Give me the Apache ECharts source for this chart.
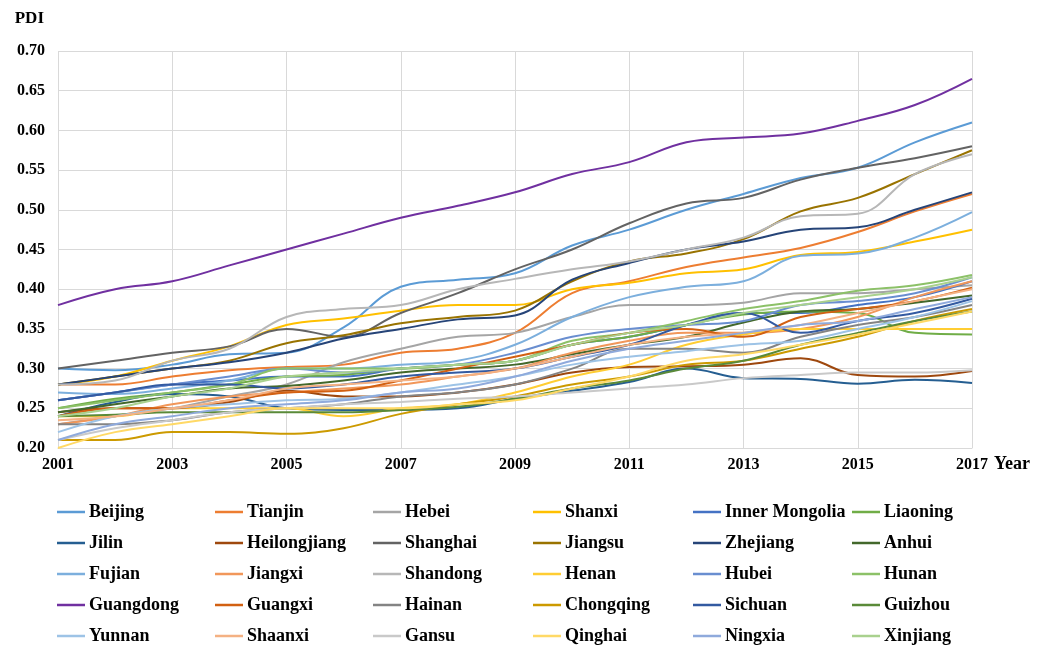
<!DOCTYPE html>
<html>
<head>
<meta charset="utf-8">
<script src="https://cdn.jsdelivr.net/npm/echarts@6/dist/echarts.min.js"></script>
<style>
html,body{margin:0;padding:0;background:#fff;}
#chart{width:1053px;height:646px;}
</style>
</head>
<body>
<div id="chart"></div>
<script>
const years = ['2001','2002','2003','2004','2005','2006','2007','2008','2009','2010','2011','2012','2013','2014','2015','2016','2017'];

const Beijing        = [0.300,0.298,0.305,0.318,0.320,0.352,0.403,0.412,0.420,0.455,0.475,0.500,0.520,0.540,0.553,0.585,0.610];
const Tianjin        = [0.280,0.280,0.290,0.298,0.302,0.305,0.320,0.325,0.345,0.395,0.410,0.428,0.440,0.452,0.472,0.498,0.520];
const Hebei          = [0.230,0.240,0.250,0.265,0.280,0.308,0.325,0.340,0.345,0.365,0.380,0.380,0.383,0.395,0.395,0.400,0.405];
const Shanxi         = [0.280,0.290,0.310,0.328,0.355,0.363,0.373,0.380,0.380,0.400,0.408,0.420,0.425,0.443,0.447,0.460,0.475];
const InnerMongolia  = [0.260,0.270,0.280,0.285,0.290,0.290,0.300,0.305,0.310,0.330,0.340,0.355,0.370,0.370,0.380,0.390,0.410];
const Liaoning       = [0.250,0.262,0.270,0.280,0.290,0.292,0.300,0.305,0.310,0.330,0.340,0.355,0.368,0.372,0.370,0.345,0.343];
const Jilin          = [0.240,0.258,0.268,0.265,0.250,0.248,0.248,0.250,0.262,0.272,0.283,0.300,0.288,0.287,0.281,0.286,0.282];
const Heilongjiang   = [0.245,0.250,0.250,0.258,0.272,0.265,0.265,0.270,0.280,0.295,0.302,0.303,0.305,0.313,0.292,0.290,0.297];
const Shanghai       = [0.300,0.310,0.320,0.328,0.350,0.340,0.370,0.395,0.425,0.450,0.483,0.508,0.515,0.538,0.553,0.565,0.580];
const Jiangsu        = [0.280,0.290,0.300,0.310,0.332,0.342,0.357,0.365,0.373,0.410,0.435,0.445,0.463,0.498,0.515,0.545,0.575];
const Zhejiang       = [0.280,0.290,0.300,0.308,0.320,0.338,0.350,0.362,0.367,0.412,0.433,0.450,0.460,0.475,0.478,0.500,0.522];
const Anhui          = [0.245,0.255,0.265,0.275,0.278,0.285,0.295,0.300,0.305,0.318,0.330,0.340,0.358,0.372,0.375,0.383,0.392];
const Fujian         = [0.270,0.268,0.275,0.285,0.300,0.300,0.305,0.310,0.330,0.365,0.390,0.403,0.410,0.442,0.445,0.465,0.497];
const Jiangxi        = [0.230,0.240,0.255,0.265,0.270,0.275,0.280,0.290,0.300,0.320,0.335,0.345,0.345,0.350,0.365,0.390,0.410];
const Shandong       = [0.280,0.285,0.310,0.325,0.365,0.375,0.380,0.400,0.413,0.425,0.435,0.450,0.465,0.492,0.495,0.545,0.570];
const Henan          = [0.240,0.240,0.250,0.250,0.250,0.240,0.250,0.255,0.270,0.290,0.305,0.330,0.343,0.350,0.350,0.350,0.350];
const Hubei          = [0.260,0.270,0.280,0.290,0.300,0.295,0.300,0.305,0.320,0.340,0.350,0.355,0.360,0.380,0.385,0.395,0.415];
const Hunan          = [0.250,0.260,0.270,0.280,0.300,0.300,0.300,0.305,0.310,0.335,0.345,0.360,0.375,0.385,0.398,0.405,0.418];
const Guangdong      = [0.380,0.400,0.410,0.430,0.450,0.470,0.490,0.505,0.522,0.545,0.560,0.585,0.591,0.596,0.612,0.632,0.665];
const Guangxi        = [0.240,0.250,0.250,0.260,0.270,0.272,0.285,0.300,0.315,0.330,0.345,0.350,0.340,0.365,0.375,0.385,0.402];
const Hainan         = [0.230,0.230,0.235,0.245,0.250,0.255,0.265,0.270,0.280,0.300,0.325,0.325,0.320,0.340,0.355,0.365,0.380];
const Chongqing      = [0.210,0.210,0.220,0.220,0.218,0.225,0.243,0.255,0.265,0.280,0.290,0.305,0.310,0.325,0.340,0.360,0.375];
const Sichuan        = [0.260,0.270,0.280,0.280,0.275,0.280,0.290,0.295,0.300,0.315,0.330,0.355,0.370,0.345,0.360,0.370,0.388];
const Guizhou        = [0.240,0.242,0.245,0.245,0.245,0.245,0.248,0.252,0.262,0.275,0.285,0.300,0.310,0.330,0.345,0.360,0.372];
const Yunnan         = [0.220,0.240,0.250,0.255,0.260,0.262,0.270,0.280,0.290,0.305,0.315,0.322,0.330,0.335,0.350,0.365,0.385];
const Shaanxi        = [0.235,0.240,0.250,0.260,0.275,0.280,0.285,0.290,0.300,0.315,0.330,0.340,0.345,0.355,0.370,0.385,0.400];
const Gansu          = [0.210,0.225,0.235,0.245,0.250,0.255,0.258,0.262,0.265,0.270,0.275,0.280,0.288,0.292,0.295,0.295,0.298];
const Qinghai        = [0.200,0.220,0.230,0.240,0.250,0.250,0.250,0.255,0.260,0.275,0.290,0.310,0.318,0.330,0.343,0.357,0.372];
const Ningxia        = [0.210,0.230,0.240,0.250,0.255,0.260,0.270,0.275,0.290,0.310,0.325,0.335,0.345,0.355,0.360,0.375,0.390];
const Xinjiang       = [0.240,0.250,0.265,0.275,0.290,0.295,0.300,0.305,0.310,0.330,0.345,0.355,0.370,0.380,0.390,0.400,0.415];

const yTicks = ['0.20','0.25','0.30','0.35','0.40','0.45','0.50','0.55','0.60','0.65','0.70'];

const names = ['Beijing','Tianjin','Hebei','Shanxi','Inner Mongolia','Liaoning',
  'Jilin','Heilongjiang','Shanghai','Jiangsu','Zhejiang','Anhui',
  'Fujian','Jiangxi','Shandong','Henan','Hubei','Hunan',
  'Guangdong','Guangxi','Hainan','Chongqing','Sichuan','Guizhou',
  'Yunnan','Shaanxi','Gansu','Qinghai','Ningxia','Xinjiang'];
const values = [Beijing,Tianjin,Hebei,Shanxi,InnerMongolia,Liaoning,
  Jilin,Heilongjiang,Shanghai,Jiangsu,Zhejiang,Anhui,
  Fujian,Jiangxi,Shandong,Henan,Hubei,Hunan,
  Guangdong,Guangxi,Hainan,Chongqing,Sichuan,Guizhou,
  Yunnan,Shaanxi,Gansu,Qinghai,Ningxia,Xinjiang];
const colors = ['#5B9BD5','#ED7D31','#A5A5A5','#FFC000','#4472C4','#70AD47',
  '#255E91','#9E480E','#636363','#997300','#264478','#43682B',
  '#7CAFDD','#F1975A','#B7B7B7','#FFCD33','#698ED0','#8CC168',
  '#7030A0','#D26012','#848484','#CC9A00','#335AA1','#5A8A39',
  '#9DC3E6','#F4B183','#C9C9C9','#FFD966','#8FAADC','#A9D18E'];

const FONT = "'Liberation Serif','Times New Roman',serif";
const legendLefts = [57, 215, 373, 533, 693, 852];

const legends = legendLefts.map((l, c) => ({
  orient: 'vertical',
  left: l,
  top: 502,
  height: 200,
  padding: 0,
  icon: 'rect',
  itemWidth: 28,
  itemHeight: 2.5,
  itemGap: 11,
  selectedMode: false,
  data: [0,1,2,3,4].map(r => names[r*6 + c]),
  textStyle: {fontFamily: FONT, fontWeight: 'bold', fontSize: 18, color: '#000', lineHeight: 20, padding: [0,0,0,-1]}
}));

const chart = echarts.init(document.getElementById('chart'), null, {renderer: 'canvas'});
chart.setOption({
  animation: false,
  color: colors,
  textStyle: {fontFamily: FONT},
  grid: {left: 58, right: 81, top: 51, bottom: 198, containLabel: false},
  legend: legends,
  xAxis: {
    type: 'category',
    data: years,
    boundaryGap: false,
    name: 'Year',
    nameLocation: 'end',
    nameGap: 17,
    nameTextStyle: {fontFamily: FONT, fontWeight: 'bold', fontSize: 18, color: '#000', align: 'left', verticalAlign: 'top', padding: [7,0,0,0]},
    axisLine: {show: true, lineStyle: {color: '#d9d9d9', width: 1}},
    axisTick: {show: false},
    axisLabel: {interval: 1, margin: 9, fontFamily: FONT, fontWeight: 'bold', fontSize: 16, color: '#000'},
    splitLine: {show: true, interval: 1, lineStyle: {color: '#d9d9d9', width: 1}}
  },
  yAxis: {
    type: 'value',
    min: 0.2, max: 0.7, interval: 0.05,
    name: 'PDI',
    nameLocation: 'end',
    nameGap: 32,
    nameTextStyle: {fontFamily: FONT, fontWeight: 'bold', fontSize: 17, color: '#000', align: 'right', verticalAlign: 'middle', padding: [0,14,0,0]},
    axisLine: {show: false},
    axisTick: {show: false},
    axisLabel: {margin: 13, fontFamily: FONT, fontWeight: 'bold', fontSize: 16, color: '#000',
      formatter: v => yTicks[Math.round((v - 0.2) / 0.05)]},
    splitLine: {show: true, lineStyle: {color: '#d9d9d9', width: 1}}
  },
  series: names.map((n, i) => ({
    name: n,
    type: 'line',
    data: values[i],
    smooth: 0.4,
    showSymbol: false,
    symbol: 'none',
    lineStyle: {width: 2, color: colors[i]},
    itemStyle: {color: colors[i]}
  }))
});
</script>
</body>
</html>
